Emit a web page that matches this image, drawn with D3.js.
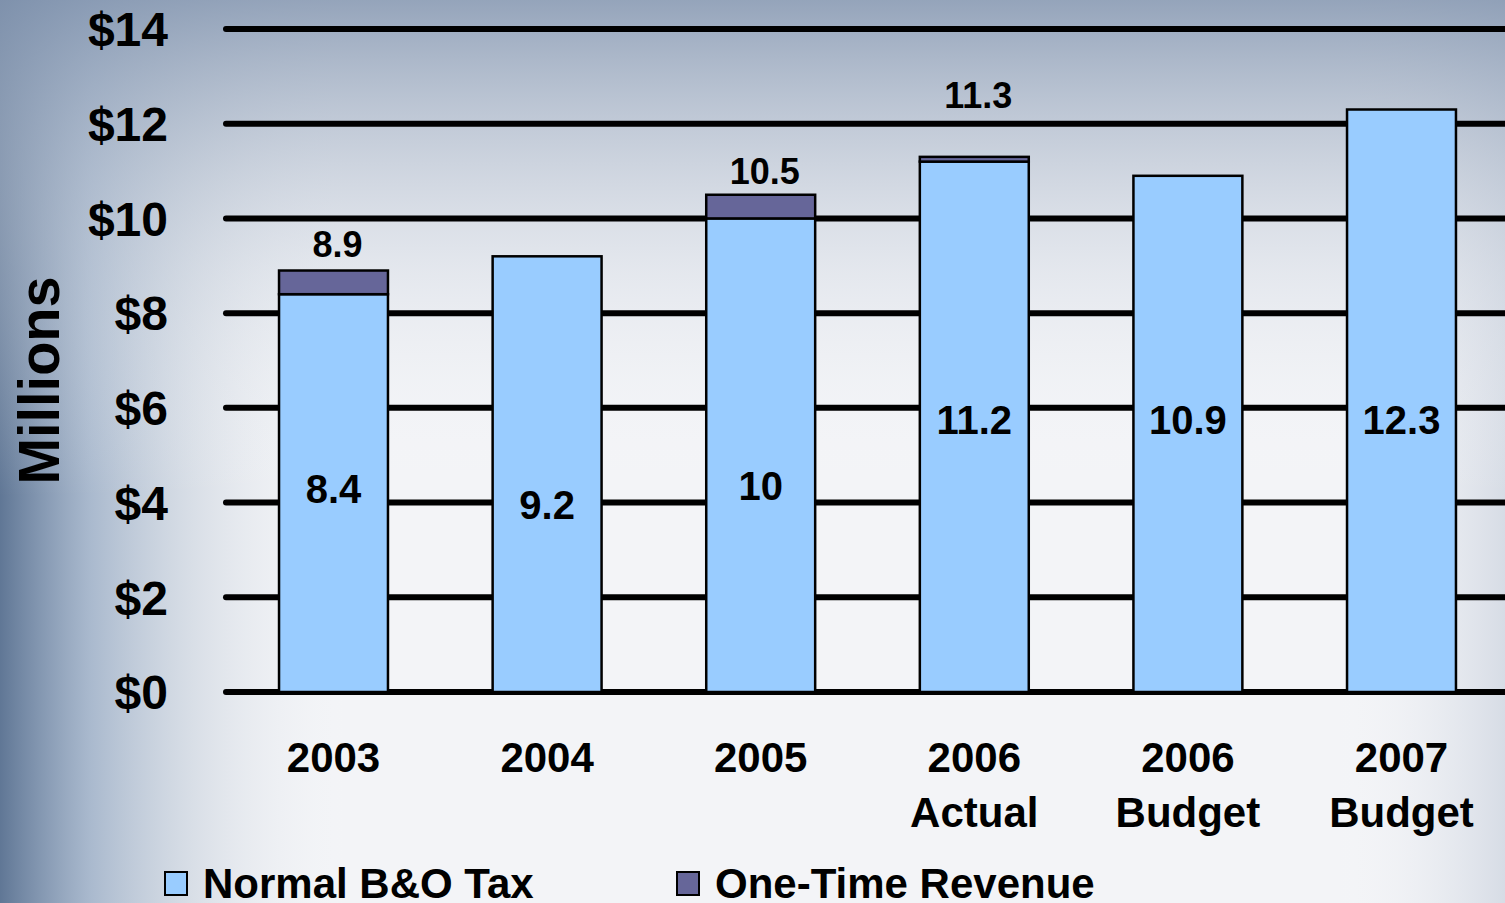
<!DOCTYPE html>
<html lang="en">
<head>
<meta charset="UTF-8">
<title>B&amp;O Tax Revenue</title>
<script src="https://cdn.jsdelivr.net/npm/d3@7"></script>
<style>
  html, body { margin: 0; padding: 0; overflow: hidden; background: #f2f3f6; }
  svg text { font-family: "Liberation Sans", Arial, sans-serif; font-weight: bold; fill: #000; }
</style>
</head>
<body>
<svg id="chart" width="1505" height="903"></svg>
<script>
// data
const categories = ['2003', '2004', '2005', '2006 Actual', '2006 Budget', '2007 Budget'];
const categoryLines = [['2003'], ['2004'], ['2005'], ['2006', 'Actual'], ['2006', 'Budget'], ['2007', 'Budget']];
const normalTax = [8.4, 9.2, 10, 11.2, 10.9, 12.3];
const oneTime = [0.5, 0, 0.5, 0.1, 0, 0];
const totals = [8.9, null, 10.5, 11.3, null, null];
const yTicks = [0, 2, 4, 6, 8, 10, 12, 14];
const seriesNames = ['Normal B&O Tax', 'One-Time Revenue'];
const seriesColors = ['#99ccff', '#666699'];

// where the labels sit (in millions), as hand-placed in the original
const innerLabelAt = [4.3, 3.95, 4.35, 5.75, 5.75, 5.75];
const totalLabelAt = [9.45, null, 11.0, 12.6, null, null];

const svg = d3.select('#chart');
const W = 1505, H = 903;

// background gradients
const defs = svg.append('defs');
const gTop = defs.append('linearGradient').attr('id', 'bgTop')
  .attr('x1', 0).attr('y1', 0).attr('x2', 0).attr('y2', 1);
gTop.append('stop').attr('offset', '0%').attr('stop-color', '#8496b0').attr('stop-opacity', 0.85);
gTop.append('stop').attr('offset', '30%').attr('stop-color', '#c8d0dc').attr('stop-opacity', 0.35);
gTop.append('stop').attr('offset', '55%').attr('stop-color', '#ffffff').attr('stop-opacity', 0);

const gLeft = defs.append('linearGradient').attr('id', 'bgLeft')
  .attr('x1', 0).attr('y1', 0).attr('x2', 1).attr('y2', 0);
gLeft.append('stop').attr('offset', '0%').attr('stop-color', '#587090').attr('stop-opacity', 0.95);
gLeft.append('stop').attr('offset', '6%').attr('stop-color', '#8aa0bc').attr('stop-opacity', 0.7);
gLeft.append('stop').attr('offset', '14%').attr('stop-color', '#b8c4d2').attr('stop-opacity', 0.35);
gLeft.append('stop').attr('offset', '24%').attr('stop-color', '#ffffff').attr('stop-opacity', 0);
gLeft.append('stop').attr('offset', '88%').attr('stop-color', '#ffffff').attr('stop-opacity', 0);
gLeft.append('stop').attr('offset', '100%').attr('stop-color', '#b4bfd0').attr('stop-opacity', 0.45);

svg.append('rect').attr('width', W).attr('height', H).attr('fill', '#f3f4f7');
svg.append('rect').attr('width', W).attr('height', H).attr('fill', 'url(#bgLeft)');
svg.append('rect').attr('width', W).attr('height', H).attr('fill', 'url(#bgTop)');

// scales
const x = d3.scaleBand()
  .domain(categories)
  .range([226.7, 1508.3])
  .paddingInner(0.49)
  .paddingOuter(0.245);

const y = d3.scaleLinear()
  .domain([0, 14])
  .range([692, 29]);

// gridlines
svg.append('g').selectAll('line')
  .data(yTicks)
  .enter()
  .append('line')
  .attr('x1', 226)
  .attr('x2', 1520)
  .attr('y1', d => y(d))
  .attr('y2', d => y(d))
  .attr('stroke', '#000')
  .attr('stroke-width', 6)
  .attr('stroke-linecap', 'round');

// y tick labels
svg.append('g').selectAll('text')
  .data(yTicks)
  .enter()
  .append('text')
  .attr('x', 168)
  .attr('y', d => y(d))
  .attr('dy', '0.36em')
  .attr('text-anchor', 'end')
  .style('font-size', '48px')
  .text(d => '$' + d);

// y axis title
svg.append('text')
  .attr('transform', `translate(59, ${(y(0) + y(14)) / 2 + 20}) rotate(-90)`)
  .attr('text-anchor', 'middle')
  .attr('textLength', 208)
  .attr('lengthAdjust', 'spacingAndGlyphs')
  .style('font-size', '58px')
  .text('Millions');

// stacked bars
const rows = categories.map((c, i) => ({ cat: c, normal: normalTax[i], once: oneTime[i] }));
const stacked = d3.stack().keys(['normal', 'once'])(rows);

svg.append('g').selectAll('g')
  .data(stacked)
  .enter()
  .append('g')
  .attr('fill', (d, i) => seriesColors[i])
  .selectAll('rect')
  .data(d => d.filter(p => p[1] - p[0] > 0))
  .enter()
  .append('rect')
  .attr('x', d => x(d.data.cat))
  .attr('width', x.bandwidth())
  .attr('y', d => y(d[1]))
  .attr('height', d => y(d[0]) - y(d[1]))
  .attr('stroke', '#000')
  .attr('stroke-width', 2.5);

// inner value labels
svg.append('g').selectAll('text')
  .data(categories)
  .enter()
  .append('text')
  .attr('x', d => x(d) + x.bandwidth() / 2)
  .attr('y', (d, i) => y(innerLabelAt[i]))
  .attr('dy', '0.36em')
  .attr('text-anchor', 'middle')
  .style('font-size', '40px')
  .text((d, i) => normalTax[i]);

// total labels above bars
svg.append('g').selectAll('text')
  .data(categories.filter((c, i) => totals[i] !== null))
  .enter()
  .append('text')
  .attr('x', d => x(d) + x.bandwidth() / 2 + 4)
  .attr('y', d => y(totalLabelAt[categories.indexOf(d)]))
  .attr('dy', '0.36em')
  .attr('text-anchor', 'middle')
  .style('font-size', '36px')
  .text(d => totals[categories.indexOf(d)]);

// category labels
const catG = svg.append('g').selectAll('text')
  .data(categories)
  .enter()
  .append('text')
  .attr('text-anchor', 'middle')
  .style('font-size', '42px');

catG.selectAll('tspan')
  .data((d, i) => categoryLines[i].map(t => ({ t, cx: x(d) + x.bandwidth() / 2 })))
  .enter()
  .append('tspan')
  .attr('x', d => d.cx)
  .attr('y', (d, j) => 772 + j * 55)
  .text(d => d.t);

// legend
const legendX = [165, 677];
const legend = svg.append('g').selectAll('g')
  .data(seriesNames)
  .enter()
  .append('g')
  .attr('transform', (d, i) => `translate(${legendX[i]}, 872)`);

legend.append('rect')
  .attr('width', 22)
  .attr('height', 23)
  .attr('fill', (d, i) => seriesColors[i])
  .attr('stroke', '#000')
  .attr('stroke-width', 2);

legend.append('text')
  .attr('x', 38)
  .attr('y', 26)
  .style('font-size', '42px')
  .text(d => d);
</script>
</body>
</html>
